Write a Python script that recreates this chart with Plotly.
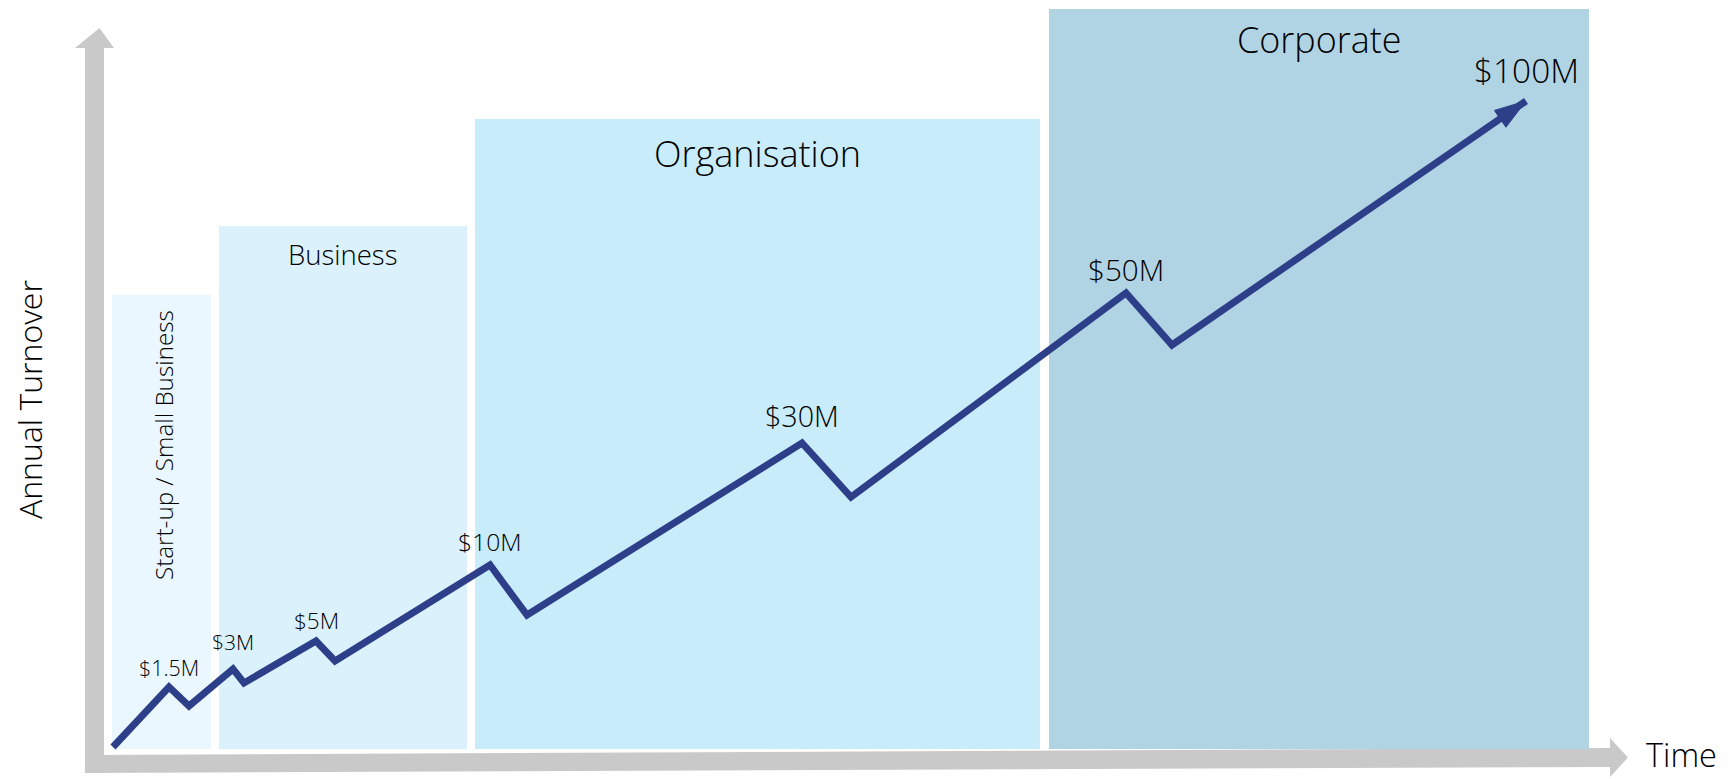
import plotly.graph_objects as go

# ---- data (chart units: time along x, turnover index along y) ----
phase_names = ["Start-up / Small Business", "Business", "Organisation", "Corporate"]
phase_start = [0.8, 11.5, 37.1, 94.5]
phase_end = [10.7, 36.3, 93.6, 148.5]
phase_top = [45.4, 52.3, 63.0, 74.0]
phase_colors = ["#EBF7FE", "#DBF2FD", "#C9ECFB", "#B1D4E4"]

time_pts = [0.9, 6.5, 8.5, 12.9, 14.0, 21.2, 23.1, 38.6, 42.3, 69.8, 74.7, 102.2, 106.8, 142.2]
turnover_pts = [0.2, 6.2, 4.3, 8.0, 6.6, 10.8, 8.8, 18.4, 13.4, 30.6, 25.2, 45.6, 40.4, 64.8]
point_labels = ["", "$1.5M", "", "$3M", "", "$5M", "", "$10M", "", "$30M", "", "$50M", "", "$100M"]
label_sizes = [0, 21.4, 0, 21, 0, 22.5, 0, 24.7, 0, 28.7, 0, 29.6, 0, 33.4]
label_lift = [0, 20, 0, 27, 0, 21, 0, 24, 0, 28, 0, 24, 0, 31]

LINE = "#2E3F8A"
GRAY = "#C9C9C9"
FONT = "Open Sans"
TXT = "#000000"
W = 300

fig = go.Figure()

# phase boxes
centers = [(s + e) / 2 for s, e in zip(phase_start, phase_end)]
widths = [e - s for s, e in zip(phase_start, phase_end)]
fig.add_trace(go.Bar(x=centers, y=phase_top, width=widths, base=0,
                     marker=dict(color=phase_colors, line=dict(width=0)),
                     hoverinfo="skip", showlegend=False))

# growth line
fig.add_trace(go.Scatter(x=time_pts, y=turnover_pts, mode="lines",
                         line=dict(color=LINE, width=7), hoverinfo="skip",
                         showlegend=False))
# arrow head on final point
fig.add_trace(go.Scatter(x=time_pts[-2:], y=turnover_pts[-2:], mode="markers",
                         marker=dict(symbol="arrow", angleref="previous",
                                     size=[0, 33], color=LINE, opacity=1,
                                     line=dict(width=1, color=LINE)),
                         hoverinfo="skip", showlegend=False))

annotations = []
for x, y, t, s, lift in zip(time_pts, turnover_pts, point_labels, label_sizes, label_lift):
    if t:
        annotations.append(dict(x=x, y=y, text=t, showarrow=False, yshift=lift,
                                xanchor="center", yanchor="middle",
                                font=dict(family=FONT, size=s, color=TXT, weight=W)))

# phase titles
title_pos = [(5.9, 30.4, 24.2, -90), (23.8, 49.5, 27.5, 0), (65.3, 59.6, 36, 0), (121.5, 71.0, 35.9, 0)]
for name, (x, y, s, ang) in zip(phase_names, title_pos):
    annotations.append(dict(x=x, y=y, text=name, textangle=ang, showarrow=False,
                            xanchor="center", yanchor="middle",
                            font=dict(family=FONT, size=s, color=TXT, weight=W)))

# axis titles
annotations.append(dict(x=29 / 1730, y=1 - 400 / 779, xref="paper", yref="paper",
                        xanchor="center", yanchor="middle",
                        text="Annual Turnover", textangle=-90, showarrow=False,
                        font=dict(family=FONT, size=32, color=TXT, weight=W)))
annotations.append(dict(x=1681 / 1730, y=0, xref="paper", yref="paper",
                        xanchor="center", yanchor="bottom",
                        text="Time", showarrow=False,
                        font=dict(family=FONT, size=32.5, color=TXT, weight=W)))

shapes = [
    # vertical axis arrow
    dict(type="path", xref="x", yref="y", line=dict(width=0), fillcolor=GRAY, layer="below",
         path="M -1.9,-2.4 L 0,-2.4 L 0,70.1 L 1.0,70.1 L -0.45,72.1 L -2.9,70.1 L -1.9,70.1 Z"),
    # horizontal axis arrow
    dict(type="path", xref="x", yref="y", line=dict(width=0), fillcolor=GRAY, layer="below",
         path="M -1.9,-2.4 L -1.9,-0.6 L 150.6,0.1 L 150.6,1.1 L 152.4,-0.85 L 150.6,-2.8 L 150.6,-1.8 Z"),
]

fig.update_layout(
    width=1730, height=779,
    margin=dict(l=0, r=0, t=0, b=0),
    paper_bgcolor="white", plot_bgcolor="white",
    barmode="overlay", bargap=0,
    xaxis=dict(range=[-10.4, 162.6], visible=False, fixedrange=True),
    yaxis=dict(range=[-3.0, 74.9], visible=False, fixedrange=True),
    annotations=annotations, shapes=shapes,
    hovermode=False,
)

fig.write_html("out.html", config={"displayModeBar": False},
               post_script="document.body.style.margin='0px';document.body.style.overflow='hidden';")
